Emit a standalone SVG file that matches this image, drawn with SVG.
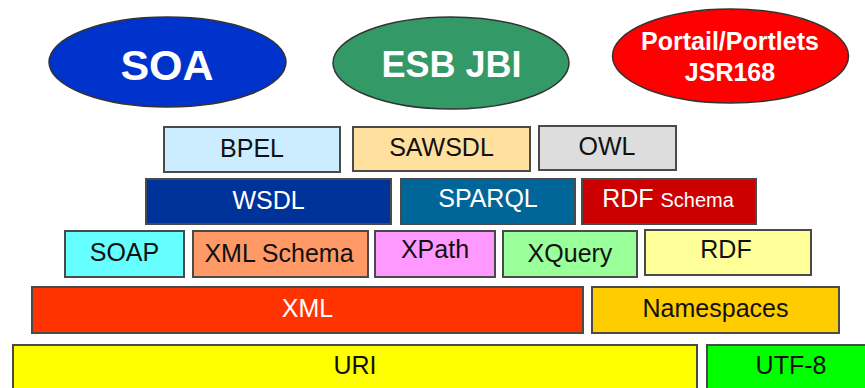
<svg xmlns="http://www.w3.org/2000/svg" width="865" height="388" viewBox="0 0 865 388">
<style>
  .ell { stroke: #333; stroke-width: 1.5; }
  .box { stroke: #4a4a4a; stroke-width: 2; }
  text { font-family: "Liberation Sans", Arial, sans-serif; text-anchor: middle; }
  .big { font-weight: bold; fill: #fff; }
  .t { font-size: 25px; fill: #111; }
  .w { fill: #fff; }
</style>
<rect width="865" height="388" fill="#fff"/>
<g id="soa"><ellipse class="ell" cx="167.5" cy="62" rx="118.5" ry="45" fill="#0033CC"/><text class="big" x="167" y="80" font-size="43">SOA</text></g>
<g id="esb"><ellipse class="ell" cx="451" cy="63" rx="118" ry="46" fill="#339966"/><text class="big" x="451.5" y="77" font-size="36">ESB JBI</text></g>
<g id="portail"><ellipse class="ell" cx="730.5" cy="56" rx="118" ry="47" fill="#FF0000"/><text class="big" x="730" y="50" font-size="25">Portail/Portlets</text><text class="big" x="730" y="81" font-size="25">JSR168</text></g>
<g id="bpel"><rect class="box" x="164" y="127" width="176" height="45" fill="#CCECFF"/><text class="t" x="252" y="157">BPEL</text></g>
<g id="sawsdl"><rect class="box" x="353" y="127" width="177" height="44" fill="#FFE09F"/><text class="t" x="441.5" y="156">SAWSDL</text></g>
<g id="owl"><rect class="box" x="539" y="126" width="137" height="44" fill="#DDDDDD"/><text class="t" x="607" y="155">OWL</text></g>
<g id="wsdl"><rect class="box" x="146" y="179" width="245" height="45" fill="#003399"/><text class="t w" x="268.5" y="209">WSDL</text></g>
<g id="sparql"><rect class="box" x="401" y="179" width="174" height="45" fill="#006699"/><text class="t w" x="488" y="207">SPARQL</text></g>
<g id="rdfschema"><rect class="box" x="582" y="179" width="174" height="45" fill="#CC0000"/><text class="t w" x="668" y="207">RDF <tspan font-size="20">Schema</tspan></text></g>
<g id="soap"><rect class="box" x="65" y="231" width="119" height="46" fill="#66FFFF"/><text class="t" x="124.5" y="261">SOAP</text></g>
<g id="xmlschema"><rect class="box" x="193" y="231" width="175" height="46" fill="#FF9966"/><text class="t" x="279" y="262" font-size="21">XML Schema</text></g>
<g id="xpath"><rect class="box" x="375" y="231" width="120" height="46" fill="#FF99FF"/><text class="t" x="435" y="258" font-size="22">XPath</text></g>
<g id="xquery"><rect class="box" x="503" y="231" width="134" height="46" fill="#99FF99"/><text class="t" x="570" y="262">XQuery</text></g>
<g id="rdf"><rect class="box" x="645" y="230" width="166" height="45" fill="#FFFF99"/><text class="t" x="726" y="258">RDF</text></g>
<g id="xml"><rect class="box" x="32" y="287" width="551" height="46" fill="#FF3300"/><text class="t w" x="307.5" y="317">XML</text></g>
<g id="namespaces"><rect class="box" x="592" y="287" width="247" height="46" fill="#FFCC00"/><text class="t" x="715.5" y="317">Namespaces</text></g>
<g id="uri"><rect class="box" x="13" y="345" width="684" height="50" fill="#FFFF00"/><text class="t" x="355" y="374">URI</text></g>
<g id="utf8"><rect class="box" x="707" y="345" width="170" height="50" fill="#00FF00"/><text class="t" x="791" y="374">UTF-8</text></g>
<g id="connectors"></g>
</svg>
